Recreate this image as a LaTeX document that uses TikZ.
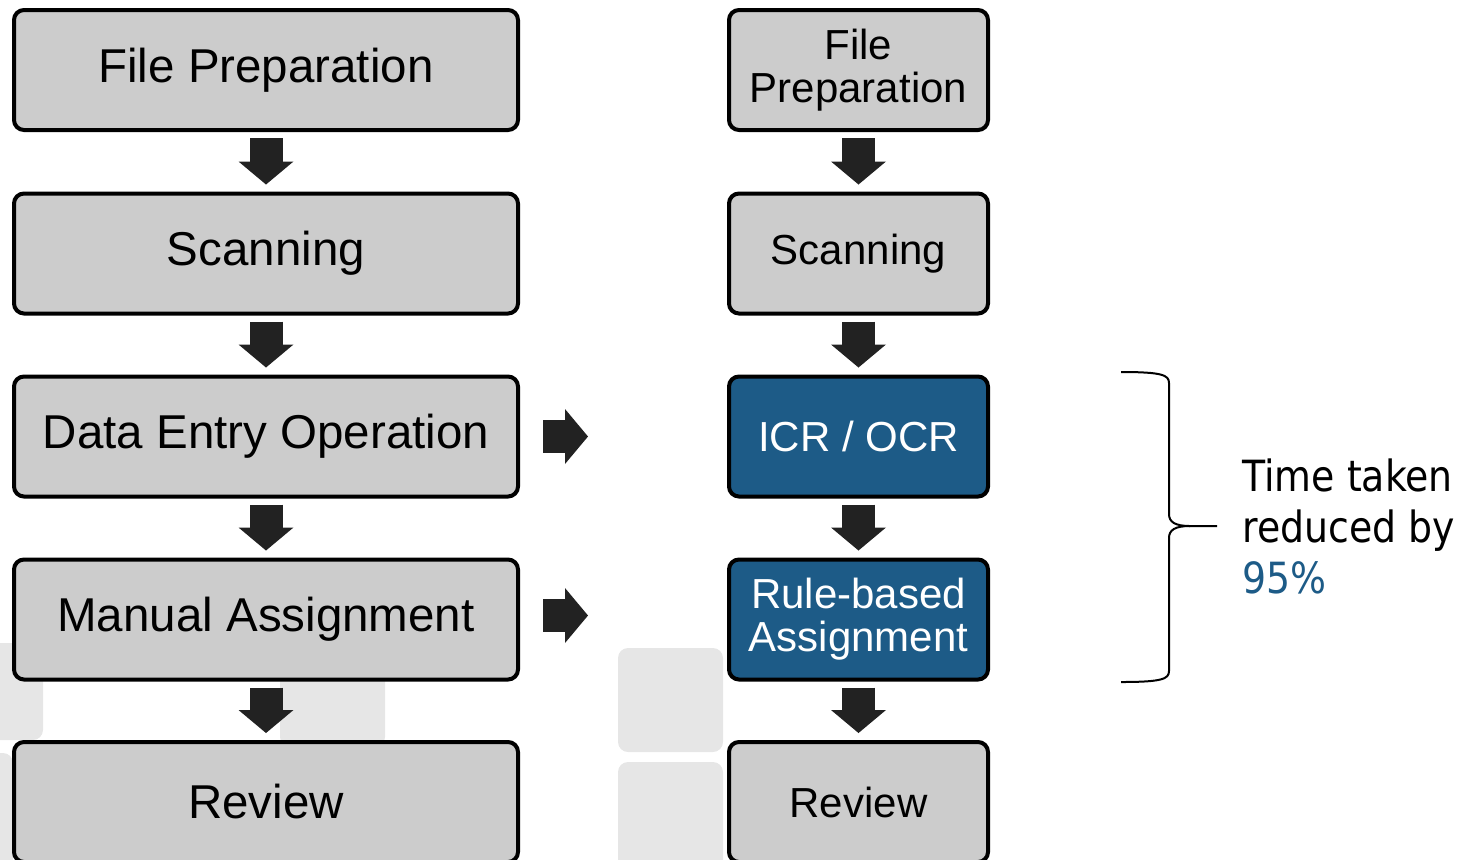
\documentclass[tikz,border=0pt]{standalone}
\usepackage{fontspec}
\setmainfont{Liberation Sans}
\newfontfamily\notefont[FakeStretch=0.88]{DejaVu Sans}
\usepackage{tikz}
\usetikzlibrary{arrows.meta,calc}

\definecolor{boxgray}{HTML}{CCCCCC}
\definecolor{autoblue}{HTML}{1D5B87}
\definecolor{arrowdark}{HTML}{222222}
\definecolor{tilegray}{HTML}{E6E6E6}

\begin{document}
\begin{tikzpicture}[x=0.5pt,y=-0.5pt,
  stepbox/.style={rectangle,rounded corners=5pt,draw=black,line width=2pt,fill=boxgray,text=black,minimum height=60pt,align=center},
  widebox/.style={stepbox,minimum width=252pt,font=\fontsize{23.75}{26}\selectfont},
  narrowbox/.style={stepbox,minimum width=129.5pt,font=\fontsize{21}{21.5}\selectfont},
  autobox/.style={narrowbox,fill=autoblue,text=white},
  flowarrow/.style={draw=arrowdark,line width=16.5pt,-{Triangle[width=27.5pt,length=11.5pt,line width=0pt]}},
  tile/.style={fill=tilegray,rounded corners=5pt}]
\clip (0,0) rectangle (1468,859);

% faint tiles in the background
\fill[tile] (-62,643) rectangle (43,740);
\fill[tile] (-92,753) rectangle (13,880);
\fill[tile] (280,643) rectangle (385,747);
\fill[tile] (618,648) rectangle (723,752);
\fill[tile] (618,762) rectangle (723,880);

% manual process
\node[widebox] (prepL) at (266,70) {File Preparation};
\node[widebox] (scanL) at (266,253.5) {Scanning};
\node[widebox] (entry) at (266,436.5) {Data Entry Operation};
\node[widebox] (manual) at (266,619.5) {Manual Assignment};
\node[widebox] (reviewL) at (266,802) {Review};

% automated process
\node[narrowbox] (prepR) at (858.5,70) {File\\Preparation};
\node[narrowbox] (scanR) at (858.5,253.5) {Scanning};
\node[autobox] (icr) at (858.5,436.5) {ICR / OCR};
\node[autobox] (rule) at (858.5,619.5) {Rule-based\\Assignment};
\node[narrowbox] (reviewR) at (858.5,802) {Review};

% down arrows
\foreach \a/\b in {prepL/scanL,scanL/entry,entry/manual,manual/reviewL,prepR/scanR,scanR/icr,icr/rule,rule/reviewR}
  \draw[flowarrow,shorten <=3pt,shorten >=3.5pt] (\a) -- (\b);

% replaced steps
\draw[flowarrow,shorten <=11.5pt,shorten >=69.5pt] (entry) -- (icr);
\draw[flowarrow,shorten <=11.5pt,shorten >=69.5pt] ([yshift=2pt]manual.east) -- ([yshift=2pt]rule.west);

% brace over the automated steps
\coordinate (tip) at (1217,526);
\draw[line width=1pt] (1121,372) .. controls (1162,372) and (1169,375) .. (1169,383) -- (1169,514)
  .. controls (1169,522) and (1175,526) .. (1190,526) -- (tip);
\draw[line width=1pt] (1190,526) .. controls (1175,526) and (1169,530) .. (1169,538) -- (1169,671)
  .. controls (1169,679) and (1162,682) .. (1121,682);

\node[anchor=west,inner sep=0pt,align=left,font=\notefont\fontsize{21.5}{25.5}\selectfont] (saving) at (1242,526)
  {Time taken\\reduced by\\\textcolor{autoblue}{95\%}};
\end{tikzpicture}
\end{document}
